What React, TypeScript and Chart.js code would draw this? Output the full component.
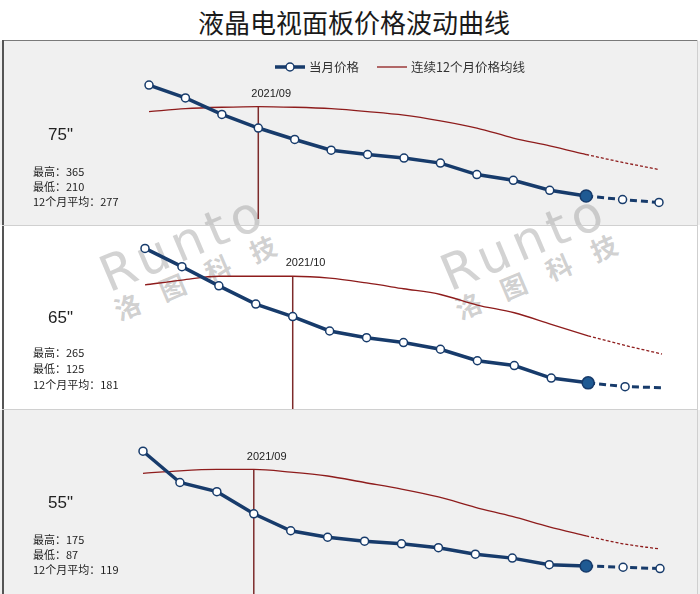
import React, { useEffect, useRef } from "react";
import { Chart, registerables } from "chart.js";

Chart.register(...registerables);

// ---------------- data ----------------
const months = [
  "2021/06", "2021/07", "2021/08", "2021/09", "2021/10", "2021/11", "2021/12",
  "2022/01", "2022/02", "2022/03", "2022/04", "2022/05", "2022/06", "2022/07", "2022/08",
];

const price75 = [365, 347, 324, 305, 289, 274, 268, 263, 256, 240, 232, 218, 210, 205, 201];
const avg75 = [328, 332, 334, 335, 334, 332, 328, 323, 315, 305, 291, 280, 268, 257, 247];

const price65 = [265, 246, 226, 207, 194, 179, 172, 167, 160, 148, 143, 130, 125, 121, 120];
const avg65 = [227, 232, 236, 236, 236, 234, 229, 223, 217, 206, 198, 186, 174, 164, 155];

const price55 = [175, 151, 144, 127, 114, 109, 106, 104, 101, 96, 93, 88, 87, 86, 85];
const avg55 = [158, 160, 161, 161, 159, 156, 151, 146, 140, 132, 125, 117, 110, 104, 100];

const sizeLabels = ['75"', '65"', '55"'];
const highs = [365, 265, 175];
const lows = [210, 125, 87];
const avgs12 = [277, 181, 119];
const peakMonths = ["2021/09", "2021/10", "2021/09"];
const lastActualMonth = "2022/06";

const titleText = "液晶电视面板价格波动曲线";
const legendPrice = "当月价格";
const legendAvg = "连续12个月价格均线";

const priceSeries = [price75, price65, price55];
const avgSeries = [avg75, avg65, avg55];

// ---------------- layout / style ----------------
const NAVY = "#173b6b";
const FILL = "#1f5a93";
const RED = "#8e1c1c";
const VLINE = "#7d2b2b";

const panels = [
  { top: 41, height: 184, bg: "#f0f0f0", yMin: 177.2, yMax: 418.9, padLeft: 149, padRight: 41, sizeY: 94, statsY: 131, statsGap: 15, legend: true, lineBottomInset: 6, hideLastMarker: false },
  { top: 226, height: 183, bg: "#ffffff", yMin: 103.5, yMax: 282.6, padLeft: 145, padRight: 38, sizeY: 92, statsY: 127, statsGap: 16, legend: false, lineBottomInset: 0, hideLastMarker: true },
  { top: 410, height: 184, bg: "#f0f0f0", yMin: 69.7, yMax: 202.4, padLeft: 143, padRight: 40, sizeY: 93, statsY: 130, statsGap: 15, legend: false, lineBottomInset: 0, hideLastMarker: false },
];

function makeChart(canvas: HTMLCanvasElement, i: number) {
  const p = panels[i];
  const price = priceSeries[i];
  const avg = avgSeries[i];
  const last = months.indexOf(lastActualMonth);
  const n = months.length;

  const priceSolid = price.map((v, k) => (k <= last ? v : null));
  const priceDash = price.map((v, k) => (k >= last ? v : null));
  const avgSolid = avg.map((v, k) => (k <= last ? v : null));
  const avgDash = avg.map((v, k) => (k >= last ? v : null));

  const annot = {
    id: "annot" + i,
    beforeDatasetsDraw(chart: any) {
      const ctx = chart.ctx;
      const xs = chart.scales.x;
      const ys = chart.scales.y;
      const pk = months.indexOf(peakMonths[i]);
      const lx = xs.getPixelForValue(pk);
      const ly = ys.getPixelForValue(avg[pk]);
      ctx.save();
      ctx.strokeStyle = VLINE;
      ctx.lineWidth = 1.5;
      ctx.beginPath();
      ctx.moveTo(lx, ly);
      ctx.lineTo(lx, chart.height - p.lineBottomInset);
      ctx.stroke();

      ctx.fillStyle = "#222";
      ctx.textBaseline = "middle";
      ctx.textAlign = "left";
      ctx.font = '11px "Liberation Sans"';
      ctx.fillText(peakMonths[i], lx - 7, ly - 13);

      ctx.font = '17px "Liberation Sans"';
      ctx.fillText(sizeLabels[i], 48, p.sizeY);

      ctx.font = '11px "Noto Sans CJK SC"';
      ctx.fillText("最高：" + highs[i], 33, p.statsY);
      ctx.fillText("最低：" + lows[i], 33, p.statsY + p.statsGap);
      ctx.fillText("12个月平均：" + avgs12[i], 33, p.statsY + 2 * p.statsGap);

      if (p.legend) {
        const y = 26;
        ctx.strokeStyle = NAVY;
        ctx.lineWidth = 3.5;
        ctx.beginPath();
        ctx.moveTo(275, y);
        ctx.lineTo(305, y);
        ctx.stroke();
        ctx.beginPath();
        ctx.arc(290, y, 4, 0, Math.PI * 2);
        ctx.fillStyle = "#fff";
        ctx.fill();
        ctx.lineWidth = 1.5;
        ctx.stroke();
        ctx.strokeStyle = RED;
        ctx.lineWidth = 1.3;
        ctx.beginPath();
        ctx.moveTo(377, y);
        ctx.lineTo(407, y);
        ctx.stroke();
        ctx.fillStyle = "#333";
        ctx.font = '12.5px "Noto Sans CJK SC"';
        ctx.fillText(legendPrice, 309, y);
        ctx.fillText(legendAvg, 411, y);
      }
      ctx.restore();
    },
  };

  return new Chart(canvas, {
    type: "line",
    data: {
      labels: months,
      datasets: [
        {
          data: priceSolid,
          borderColor: NAVY,
          borderWidth: 3.5,
          pointRadius: priceSolid.map((_, k) => (k === last ? 6 : 4)),
          pointBackgroundColor: priceSolid.map((_, k) => (k === last ? FILL : "#ffffff")),
          pointBorderColor: NAVY,
          pointBorderWidth: 1.5,
          tension: 0,
          clip: false as any,
        },
        {
          data: priceDash,
          borderColor: NAVY,
          borderWidth: 3,
          borderDash: [7, 4],
          pointRadius: priceDash.map((_, k) => (k <= last ? 0 : p.hideLastMarker && k === n - 1 ? 0 : 4)),
          pointBackgroundColor: "#ffffff",
          pointBorderColor: NAVY,
          pointBorderWidth: 1.5,
          tension: 0,
          clip: false as any,
        },
        {
          data: avgSolid,
          borderColor: RED,
          borderWidth: 1.3,
          pointRadius: 0,
          cubicInterpolationMode: "monotone",
          clip: false as any,
        },
        {
          data: avgDash,
          borderColor: RED,
          borderWidth: 1.3,
          borderDash: [3, 2],
          pointRadius: 0,
          cubicInterpolationMode: "monotone",
          clip: false as any,
        },
      ],
    },
    options: {
      animation: false,
      responsive: false,
      maintainAspectRatio: false,
      events: [],
      layout: { padding: { left: p.padLeft, right: p.padRight, top: 0, bottom: 0 } },
      plugins: { legend: { display: false }, tooltip: { enabled: false }, title: { display: false } },
      scales: {
        x: { display: false, offset: false },
        y: { display: false, min: p.yMin, max: p.yMax },
      },
    },
    plugins: [annot],
  } as any);
}

function Watermark({ cx, cy }: { cx: number; cy: number }) {
  return (
    <div
      style={{
        position: "absolute",
        left: cx - 120,
        top: cy - 36,
        width: 240,
        height: 72,
        transform: "rotate(-23deg)",
        textAlign: "center",
        zIndex: 1,
        pointerEvents: "none",
      }}
    >
      <div style={{ font: '50px "DejaVu Sans"', lineHeight: "50px", letterSpacing: "6px", color: "rgba(150,150,150,0.42)", paddingLeft: 6 }}>
        Runto
      </div>
      <div style={{ font: 'bold 26px "Noto Sans CJK SC"', lineHeight: "22px", letterSpacing: "23px", color: "rgba(150,150,150,0.45)", paddingLeft: 23 }}>
        洛图科技
      </div>
    </div>
  );
}

export default function App() {
  const r0 = useRef<HTMLCanvasElement>(null);
  const r1 = useRef<HTMLCanvasElement>(null);
  const r2 = useRef<HTMLCanvasElement>(null);
  const refs = [r0, r1, r2];

  useEffect(() => {
    const charts = refs.map((r, i) => makeChart(r.current as HTMLCanvasElement, i));
    return () => charts.forEach((c) => c.destroy());
  }, []);

  return (
    <div style={{ position: "absolute", left: 0, top: 0, width: 700, height: 594, background: "#fff", overflow: "hidden" }}>
      <div
        style={{
          position: "absolute",
          left: 4,
          top: 2,
          width: 700,
          height: 40,
          lineHeight: "40px",
          textAlign: "center",
          fontSize: 26,
          fontFamily: '"Noto Sans CJK SC"',
          color: "#1a1a1a",
        }}
      >
        {titleText}
      </div>
      {panels.map((p, i) => (
        <div key={"bg" + i} style={{ position: "absolute", left: 0, top: p.top, width: 700, height: p.height, background: p.bg, zIndex: 0 }} />
      ))}
      <Watermark cx={185} cy={254} />
      <Watermark cx={526} cy={253} />
      {panels.map((p, i) => (
        <canvas
          key={"c" + i}
          ref={refs[i]}
          width={700}
          height={p.height}
          style={{ position: "absolute", left: 0, top: p.top, width: 700, height: p.height, zIndex: 2 }}
        />
      ))}
      {/* borders */}
      <div style={{ position: "absolute", left: 2, top: 40, width: 696, height: 1, background: "#7a7a7a", zIndex: 3 }} />
      <div style={{ position: "absolute", left: 2, top: 40, width: 1.5, height: 554, background: "#555", zIndex: 3 }} />
      <div style={{ position: "absolute", left: 697, top: 40, width: 1, height: 554, background: "#cfcfcf", zIndex: 3 }} />
      <div style={{ position: "absolute", left: 2, top: 225, width: 696, height: 1, background: "#d0d0d0", zIndex: 3 }} />
      <div style={{ position: "absolute", left: 2, top: 409, width: 696, height: 1, background: "#d0d0d0", zIndex: 3 }} />
    </div>
  );
}
